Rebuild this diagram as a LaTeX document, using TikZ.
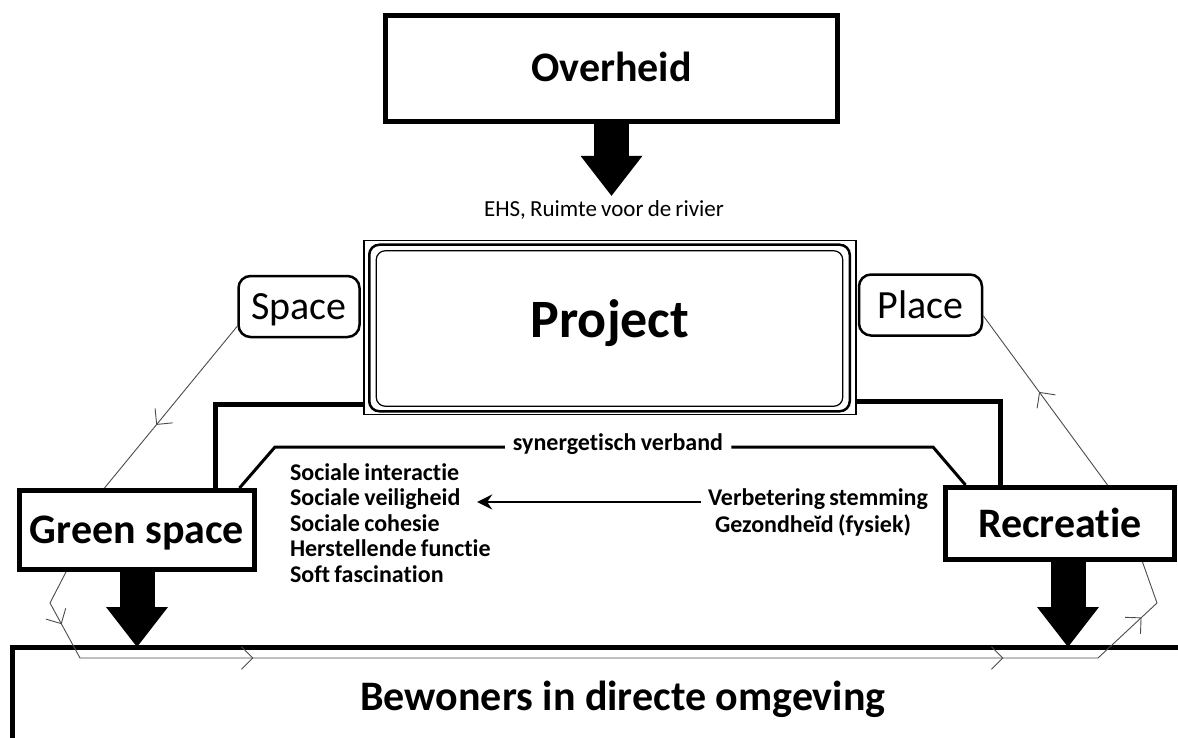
\documentclass[tikz,border=0pt]{standalone}
\usepackage{fontspec}
\setmainfont{Carlito}[Ligatures=NoCommon]
\newfontfamily\listfont{Carlito}[Ligatures=NoCommon,WordSpace=0.8]
\usetikzlibrary{arrows.meta,decorations.markings,positioning}
\newcommand\flowhead{\arrow{Straight Barb[angle=90:16pt,line width=0.9pt]}}

\begin{document}
\begin{tikzpicture}[x=1pt,y=-1pt,node distance=25.5pt,
        box/.style={draw,line width=5pt,inner sep=0pt,font=\bfseries\fontsize{42}{50}\selectfont,text height=27pt,text depth=0pt},
        tag/.style={draw,line width=2.5pt,rounded corners=12pt,inner sep=0pt,minimum width=121pt,minimum height=61pt,font=\fontsize{40}{48}\selectfont,text height=26pt,text depth=0pt},
        small/.style={font=\listfont\bfseries\fontsize{24}{26}\selectfont,inner sep=0pt,text height=11pt,text depth=4pt},
        effect/.style={small,text width=210pt,align=flush left},
        block/.style={line width=35pt,-{Triangle[width=62pt,length=40pt,line width=0pt]}},
        link/.style={line width=5pt},
        flow/.style={color=black!70,line width=0.9pt,postaction={decorate}}]
            \path[use as bounding box,fill=white] (0,0) rectangle (1178,738);

            \node (1) [box,minimum width=452pt,minimum height=106pt] at (611.5,68.5) {Overheid};
            \node (2) [font=\listfont\fontsize{23}{26}\selectfont,inner sep=0pt,anchor=base] at (604,217) {EHS, Ruimte voor de rivier};
            \node (3) [draw,line width=1.5pt,inner sep=0pt,minimum width=492pt,minimum height=174pt,font=\bfseries\fontsize{54}{60}\selectfont,text height=35pt,text depth=16pt] at (610,327.5) {Project};
            \node (4) [tag] at (299,306.5) {Space};
            \node (5) [tag,minimum width=123pt] at (920.5,305) {Place};
            \node (6) [box,minimum width=235pt,minimum height=79pt] at (137,530) {Green space};
            \node (7) [box,minimum width=229pt,minimum height=72pt] at (1060,523.5) {Recreatie};
            \node (8) [small,inner xsep=8pt] at (618,447) {synergetisch verband};
            \node (9) [effect] at (395,476.5) {Sociale interactie};
            \node (10) [effect,below of=9] {Sociale veiligheid};
            \node (11) [effect,below of=10] {Sociale cohesie};
            \node (12) [effect,below of=11] {Herstellende functie};
            \node (13) [effect,below of=12] {Soft fascination};
            \node (14) [effect,text width=220pt] at (818,502) {Verbetering stemming};
            \node (15) [effect,text width=220pt,node distance=27pt,below of=14,xshift=7pt] {Gezondheĭd (fysiek)};
            \node (16) [box,draw=none] at (623,697) {Bewoners in directe omgeving};
            \coordinate (17) at (12,647);

            \draw[line width=2.5pt,rounded corners=10pt] ([shift={(6pt,-5pt)}]3.north west) rectangle ([shift={(-7pt,4pt)}]3.south east);
            \draw[line width=1.2pt,rounded corners=9pt] ([shift={(13pt,-11pt)}]3.north west) rectangle ([shift={(-14pt,9pt)}]3.south east);
            \draw[link] (12,738) -- (17) -- (1178,647);

            \draw[link] ([yshift=11pt]3.south west) -| ([xshift=198.5pt]6.north west);
            \draw[link] ([yshift=14pt]3.south east) -| ([xshift=57.5pt]7.north west);
            \draw[line width=3pt] ([xshift=-17.5pt]6.north east) -- (275,447) -- (8.west);
            \draw[line width=3pt] (8.east) -- (933,447) -- ([xshift=22.5pt]7.north west);

            \draw[block] (1.south) -- ([yshift=5pt]1.south |- 2.north);
            \draw[block] (6.south) -- (6.south |- 17);
            \draw[block] ([xshift=8pt]7.south) -- ([xshift=8pt]7.south |- 17);

            \draw[line width=2pt,-{Stealth[length=15pt,width=15pt,inset=5pt]}] ([xshift=-7pt]14.west) -- ([xshift=-23pt]10.east);

            \draw[flow,decoration={markings,mark=at position 0.61 with {\flowhead}}] ([yshift=12pt]4.south west) -- ([xshift=87.5pt]6.north west);
            \draw[flow,decoration={markings,mark=at position 59pt with {\flowhead},mark=at position 271pt with {\flowhead},mark=at position 1021pt with {\flowhead},mark=at position 1175pt with {\flowhead}}] ([xshift=49pt]6.south west) -- (50,603) -- (80,658) -- (1098,658) -- (1157,603) -- ([xshift=199.5pt]7.south west);
            \draw[flow,decoration={markings,mark=at position 0.55 with {\flowhead}}] ([xshift=164.5pt]7.north west) -- ([yshift=21pt]5.south east);

        \end{tikzpicture}
\end{document}
